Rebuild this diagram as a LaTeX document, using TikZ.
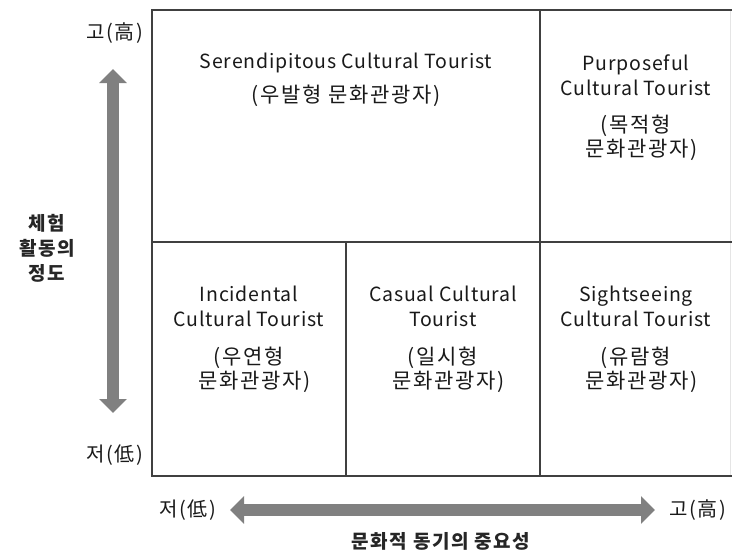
\documentclass[tikz,border=0pt]{standalone}
\usepackage{fontspec}
\setmainfont[LetterSpace=8]{Noto Sans CJK KR}
\newfontfamily\engfont[LetterSpace=4]{Noto Sans CJK KR}
\newfontfamily\korfont[LetterSpace=8]{Noto Sans CJK KR}
\usetikzlibrary{arrows.meta}
\begin{document}
\begin{tikzpicture}[x=1pt,y=-1pt,
  eng/.style={align=center,inner sep=0pt,font=\engfont\fontsize{19.5}{25}\selectfont,text=black!90},
  kor/.style={align=center,inner sep=0pt,font=\korfont\fontsize{21}{24}\selectfont,text=black!90},
  axlbl/.style={inner sep=0pt,font=\korfont\fontsize{20}{22}\selectfont,text=black!90},
  axtitle/.style={inner sep=0pt,font=\fontsize{19}{25}\selectfont\bfseries,text=black!85,align=center},
  frame/.style={draw=black!75,line width=1.2pt},
  bigarrow/.style={draw=black!50,line width=12pt,{Triangle[width=27pt,length=14pt]}-{Triangle[width=27pt,length=14pt]}}]
\useasboundingbox (0,0) rectangle (732,555);
\fill[white] (0,0) rectangle (732,555);
% frame
\coordinate (tl) at (152,10);
\coordinate (tr) at (732,10);
\coordinate (bl) at (152,476);
\coordinate (br) at (732,476);
\coordinate (ml) at (152,242);
\coordinate (mr) at (732,242);
\coordinate (vt) at (540,10);
\coordinate (vb) at (540,476);
\coordinate (st) at (346,242);
\coordinate (sb) at (346,476);
\coordinate (rt) at (730,10);
\coordinate (rb) at (730,476);
\draw[draw=black!10,line width=0.8pt] (rt) -- (rb);
\draw[frame] (tr) -- (tl) -- (bl) -- (br);
\draw[frame] (ml) -- (mr);
\draw[frame] (vt) -- (vb);
\draw[frame] (st) -- (sb);
% cells
\node[eng] (ser) at (346,63) {Serendipitous Cultural Tourist};
\node[kor] (serk) at (346,96) {(우발형 문화관광자)};
\node[eng] (pur) at (636,75) {Purposeful\\Cultural Tourist};
\node[kor] (purk) at (636,138) {(목적형\\\hspace*{0.5em}문화관광자)};
\node[eng] (inc) at (249,306) {Incidental\\Cultural Tourist};
\node[kor] (inck) at (249,370) {(우연형\\\hspace*{0.5em}문화관광자)};
\node[eng] (cas) at (443,306) {Casual Cultural\\Tourist};
\node[kor] (cask) at (443,370) {(일시형\\\hspace*{0.5em}문화관광자)};
\node[eng] (sig) at (636,306) {Sightseeing\\Cultural Tourist};
\node[kor] (sigk) at (636,370) {(유람형\\\hspace*{0.5em}문화관광자)};
% vertical axis
\coordinate (va) at (113,69);
\coordinate (vz) at (113,413);
\draw[bigarrow] (va) -- (vz);
\node[axlbl,anchor=east] (yhi) at (143,33) {고(高)};
\node[axlbl,anchor=east] (ylo) at (143,455) {저(低)};
\node[axtitle] (ytitle) at (47,248) {체험\\활동의\\정도};
% horizontal axis
\coordinate (ha) at (230,510);
\coordinate (hz) at (655,510);
\draw[bigarrow] (ha) -- (hz);
\node[axlbl,anchor=east] (xlo) at (216,510) {저(低)};
\node[axlbl,anchor=west] (xhi) at (669,510) {고(高)};
\node[axtitle] (xtitle) at (441,541) {문화적 동기의 중요성};
\end{tikzpicture}
\end{document}
